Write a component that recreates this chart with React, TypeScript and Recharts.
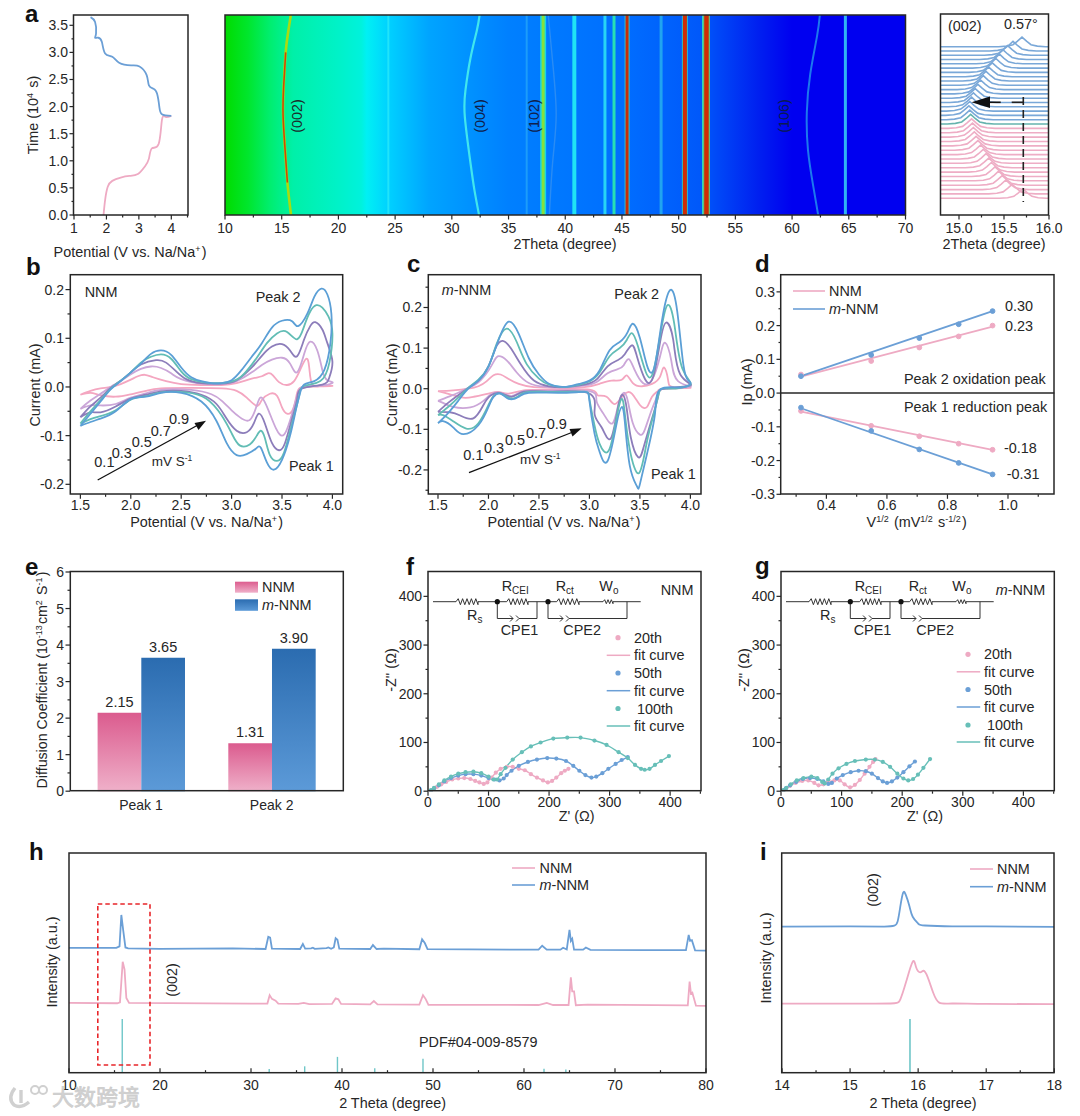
import React from 'react';
import {
  ComposedChart, BarChart, Bar, Line, XAxis, YAxis, ReferenceArea, ReferenceLine, LabelList,
} from 'recharts';

const FONT = '"Liberation Sans", Arial, sans-serif';
const INK = '#262626';
const PINK = '#eeaac3';
const BLUE = '#6b9fd6';
const TEAL = '#67bfb8';
const RATE_COLORS = ['#f4a6c0', '#cba6d8', '#8c7dba', '#62bdb5', '#5b9fd6'];

type Pair = [number, number];
const pts = (list: Pair[]) => list.map(([x, y]) => ({ x, y }));

// a - charge / discharge
const chargeCurve: Pair[] = [[1.91, 0], [1.96, 0.28], [2.04, 0.52], [2.18, 0.63], [2.44, 0.69], [2.71, 0.72], [2.97, 0.755], [3.18, 0.89], [3.31, 1.04], [3.4, 1.23], [3.61, 1.31], [3.71, 1.75], [3.82, 1.81], [4.0, 1.83]];
const dischargeCurve: Pair[] = [[4.0, 1.83], [3.71, 1.86], [3.63, 2.0], [3.56, 2.24], [3.45, 2.33], [3.31, 2.39], [3.24, 2.58], [3.02, 2.74], [2.76, 2.76], [2.39, 2.81], [2.18, 2.92], [1.96, 2.98], [1.86, 3.19], [1.75, 3.27], [1.65, 3.27], [1.68, 3.35], [1.65, 3.56], [1.51, 3.65]];

// a - heat map
const heatStops: Pair[] = [[10, 0], [12, 1], [14, 2], [16, 3], [20, 4], [22, 5], [22.5, 6], [24.5, 7], [28, 8], [35, 9], [45, 10], [52, 11], [57, 12], [60, 13], [70, 13]];
const heatColors = ['#00dc00', '#00e62c', '#00ee70', '#00f0a8', '#00f2c8', '#00f2dc', '#00f0f4', '#00d0ff', '#00a4ff', '#0080ff', '#006eff', '#0058fa', '#0020f0', '#0000f0'];
const heatBands = [
  { theta: 24.4, color: '#20e4fa', width: 2 }, { theta: 36.6, color: '#1c9cfa', width: 2 },
  { theta: 38.05, color: '#18d8e0', width: 6 }, { theta: 38.05, color: '#86e03c', width: 3 },
  { theta: 40.8, color: '#20e4f4', width: 4 }, { theta: 43.5, color: '#28d4f4', width: 3 },
  { theta: 44.3, color: '#28e0b4', width: 3 }, { theta: 45.45, color: '#30c0d0', width: 5 },
  { theta: 45.45, color: '#c82c08', width: 3 }, { theta: 48.45, color: '#20a4f0', width: 3 },
  { theta: 50.55, color: '#28c0c8', width: 6 }, { theta: 50.55, color: '#d02c04', width: 4 },
  { theta: 52.15, color: '#30e0c0', width: 2 }, { theta: 52.45, color: '#60c080', width: 7 },
  { theta: 52.45, color: '#d02c04', width: 4.5 }, { theta: 64.7, color: '#30b4f4', width: 3 },
];
const peak002: Pair[] = [[15.82, 0], [15.5, 0.6], [15.3, 1.2], [15.12, 1.85], [15.18, 2.4], [15.35, 3.0], [15.55, 3.35], [15.8, 3.69]];
const peak002Hot: Pair[] = [[15.5, 0.6], [15.3, 1.2], [15.12, 1.85], [15.18, 2.4], [15.35, 3.0]];
const peak004: Pair[] = [[32.4, 0], [32.0, 0.45], [31.65, 0.95], [31.15, 1.8], [31.2, 2.3], [31.65, 2.9], [32.2, 3.4], [32.45, 3.69]];
const peak106: Pair[] = [[62.3, 0], [61.85, 0.55], [61.4, 1.2], [61.3, 1.9], [61.6, 2.6], [62.2, 3.3], [62.45, 3.69]];
const peakFaint: Pair[] = [[38.6, 0], [38.9, 1.0], [39.2, 1.85], [38.9, 2.8], [38.5, 3.69]];

// a - waterfall of the (002) peak
const peakProfile: Pair[] = [[-0.26, 0], [-0.17, 0.6], [-0.1, 2], [-0.05, 5.5], [0, 9.6], [0.05, 5.5], [0.1, 2], [0.17, 0.6], [0.26, 0]];
const pinkBaselines = [16.7, 21.1, 25.4, 29.8, 34.2, 38.5, 42.9, 47.3, 51.7, 56, 60.4, 64.8, 69.1, 73.5, 77.9, 82.3, 86.6];
const pinkPeaks = [15.71, 15.59, 15.52, 15.48, 15.44, 15.4, 15.36, 15.33, 15.3, 15.27, 15.24, 15.21, 15.19, 15.17, 15.16, 15.15, 15.14];
const blueBaselines = [91, 95.3, 99.6, 103.9, 108.2, 112.5, 116.8, 121.1, 125.4, 129.7, 134, 138.3, 142.6, 146.9, 151.2, 155.5, 159.8, 164, 168.3];
const bluePeaks = [15.13, 15.12, 15.11, 15.12, 15.14, 15.16, 15.18, 15.21, 15.24, 15.27, 15.3, 15.33, 15.37, 15.41, 15.45, 15.49, 15.54, 15.6, 15.7];

const waterfallCurve = (base: number, peak: number) => [
  { x: 14.8, y: base },
  ...peakProfile.map(([dx, h]) => ({ x: peak + dx, y: base + h })),
  { x: 16, y: base },
];

// b - CV of NNM, one curve per scan rate
const cvNnm: Pair[][] = [
  [[1.5, -0.016], [1.6, -0.008], [1.7, -0.003], [1.8, 0], [1.9, 0.006], [2.0, 0.015], [2.07, 0.022], [2.14, 0.025], [2.22, 0.02], [2.35, 0.012], [2.5, 0.006], [2.7, 0.004], [2.9, 0.004], [3.05, 0.008], [3.2, 0.017], [3.3, 0.022], [3.36, 0.028], [3.41, 0.024], [3.47, 0.01], [3.55, 0.004], [3.62, 0.012], [3.68, 0.035], [3.74, 0.058], [3.77, 0.04], [3.8, 0.005], [3.9, 0.002], [4.0, 0.002], [3.85, 0.001], [3.7, -0.001], [3.65, -0.012], [3.61, -0.045], [3.55, -0.055], [3.5, -0.042], [3.45, -0.018], [3.38, -0.014], [3.3, -0.027], [3.25, -0.039], [3.15, -0.022], [3.05, -0.008], [2.9, -0.003], [2.6, -0.002], [2.3, -0.003], [2.15, -0.008], [2.0, -0.015], [1.85, -0.02], [1.7, -0.017], [1.6, -0.012], [1.5, -0.016]],
  [[1.5, -0.045], [1.6, -0.028], [1.7, -0.014], [1.8, 0], [1.9, 0.012], [2.0, 0.026], [2.1, 0.037], [2.2, 0.042], [2.3, 0.039], [2.4, 0.028], [2.5, 0.016], [2.7, 0.007], [2.9, 0.006], [3.05, 0.012], [3.2, 0.03], [3.3, 0.045], [3.4, 0.056], [3.5, 0.06], [3.58, 0.048], [3.65, 0.03], [3.72, 0.068], [3.78, 0.093], [3.85, 0.075], [3.9, 0.035], [3.95, 0.014], [4.0, 0.008], [3.85, 0.002], [3.7, 0], [3.65, -0.018], [3.6, -0.055], [3.52, -0.098], [3.44, -0.085], [3.37, -0.05], [3.3, -0.022], [3.25, -0.038], [3.18, -0.068], [3.08, -0.062], [3.0, -0.048], [2.9, -0.028], [2.8, -0.015], [2.6, -0.006], [2.3, -0.006], [2.15, -0.013], [2.0, -0.022], [1.85, -0.035], [1.7, -0.038], [1.6, -0.038], [1.5, -0.045]],
  [[1.5, -0.062], [1.6, -0.04], [1.7, -0.022], [1.8, -0.002], [1.9, 0.013], [2.0, 0.03], [2.1, 0.046], [2.25, 0.055], [2.35, 0.05], [2.45, 0.032], [2.55, 0.016], [2.7, 0.008], [2.9, 0.007], [3.05, 0.014], [3.2, 0.04], [3.3, 0.064], [3.4, 0.083], [3.5, 0.088], [3.58, 0.075], [3.65, 0.063], [3.72, 0.098], [3.78, 0.125], [3.83, 0.133], [3.9, 0.118], [3.95, 0.09], [4.0, 0.052], [3.97, 0.02], [3.9, 0.005], [3.7, -0.003], [3.65, -0.025], [3.6, -0.065], [3.53, -0.115], [3.47, -0.13], [3.4, -0.115], [3.33, -0.075], [3.27, -0.055], [3.22, -0.075], [3.15, -0.093], [3.05, -0.09], [2.95, -0.065], [2.85, -0.035], [2.7, -0.016], [2.5, -0.008], [2.3, -0.009], [2.15, -0.016], [2.0, -0.024], [1.85, -0.04], [1.7, -0.052], [1.6, -0.052], [1.5, -0.062]],
  [[1.5, -0.075], [1.6, -0.05], [1.7, -0.027], [1.8, -0.004], [1.9, 0.013], [2.0, 0.03], [2.1, 0.05], [2.2, 0.062], [2.3, 0.067], [2.4, 0.058], [2.5, 0.032], [2.6, 0.016], [2.75, 0.009], [2.9, 0.008], [3.05, 0.015], [3.15, 0.033], [3.25, 0.06], [3.35, 0.09], [3.45, 0.11], [3.55, 0.113], [3.65, 0.098], [3.72, 0.125], [3.78, 0.155], [3.84, 0.168], [3.9, 0.163], [3.96, 0.145], [4.0, 0.11], [3.97, 0.05], [3.88, 0.012], [3.72, 0.002], [3.67, -0.018], [3.6, -0.075], [3.52, -0.135], [3.45, -0.152], [3.38, -0.14], [3.33, -0.105], [3.29, -0.09], [3.25, -0.1], [3.18, -0.118], [3.08, -0.12], [3.0, -0.095], [2.9, -0.058], [2.75, -0.024], [2.55, -0.011], [2.3, -0.011], [2.15, -0.019], [2.0, -0.026], [1.85, -0.048], [1.7, -0.06], [1.6, -0.066], [1.5, -0.075]],
  [[1.5, -0.08], [1.6, -0.055], [1.7, -0.03], [1.8, -0.005], [1.9, 0.012], [2.0, 0.03], [2.1, 0.048], [2.2, 0.068], [2.3, 0.075], [2.4, 0.066], [2.5, 0.04], [2.6, 0.02], [2.7, 0.012], [2.8, 0.008], [2.9, 0.008], [3.0, 0.014], [3.1, 0.035], [3.2, 0.062], [3.3, 0.09], [3.4, 0.122], [3.5, 0.136], [3.6, 0.135], [3.66, 0.125], [3.75, 0.15], [3.82, 0.185], [3.89, 0.202], [3.95, 0.19], [3.99, 0.15], [3.98, 0.09], [3.92, 0.035], [3.82, 0.012], [3.72, 0.005], [3.68, -0.012], [3.64, -0.045], [3.58, -0.1], [3.5, -0.15], [3.42, -0.17], [3.35, -0.155], [3.29, -0.125], [3.24, -0.127], [3.15, -0.138], [3.05, -0.14], [2.95, -0.115], [2.85, -0.07], [2.7, -0.03], [2.5, -0.012], [2.3, -0.012], [2.15, -0.02], [2.0, -0.025], [1.85, -0.05], [1.7, -0.065], [1.6, -0.072], [1.5, -0.08]],
];

// c - CV of m-NNM
const cvModified: Pair[][] = [
  [[1.5, -0.006], [1.65, -0.004], [1.8, 0], [1.9, 0.006], [1.98, 0.018], [2.05, 0.033], [2.12, 0.035], [2.2, 0.024], [2.3, 0.012], [2.45, 0.004], [2.7, 0.002], [2.95, 0.004], [3.1, 0.012], [3.22, 0.02], [3.32, 0.022], [3.37, 0.033], [3.43, 0.014], [3.52, 0.006], [3.62, 0.012], [3.7, 0.03], [3.74, 0.052], [3.78, 0.02], [3.84, 0.004], [4.0, 0.002], [3.75, 0], [3.68, -0.005], [3.62, -0.02], [3.57, -0.045], [3.5, -0.04], [3.42, -0.012], [3.34, -0.015], [3.25, -0.038], [3.17, -0.02], [3.08, -0.016], [3.0, -0.002], [2.6, -0.003], [2.35, -0.004], [2.2, -0.012], [2.1, -0.008], [2.0, -0.012], [1.85, -0.02], [1.75, -0.022], [1.62, -0.014], [1.5, -0.006]],
  [[1.5, -0.03], [1.6, -0.02], [1.7, -0.01], [1.8, 0.002], [1.9, 0.016], [2.0, 0.045], [2.06, 0.07], [2.1, 0.08], [2.18, 0.07], [2.28, 0.04], [2.4, 0.014], [2.55, 0.005], [2.75, 0.003], [2.95, 0.008], [3.08, 0.018], [3.18, 0.038], [3.28, 0.048], [3.34, 0.058], [3.39, 0.073], [3.45, 0.045], [3.53, 0.014], [3.62, 0.022], [3.7, 0.08], [3.75, 0.113], [3.81, 0.07], [3.88, 0.018], [4.0, 0.005], [3.75, 0], [3.68, -0.012], [3.62, -0.05], [3.55, -0.1], [3.5, -0.113], [3.43, -0.085], [3.38, -0.03], [3.34, -0.01], [3.29, -0.035], [3.23, -0.085], [3.14, -0.062], [3.07, -0.03], [3.0, -0.006], [2.6, -0.005], [2.35, -0.006], [2.23, -0.018], [2.12, -0.01], [2.02, -0.015], [1.95, -0.03], [1.82, -0.046], [1.65, -0.045], [1.55, -0.035], [1.5, -0.03]],
  [[1.5, -0.057], [1.6, -0.035], [1.7, -0.016], [1.8, 0.002], [1.9, 0.02], [2.0, 0.055], [2.07, 0.1], [2.14, 0.118], [2.22, 0.1], [2.32, 0.06], [2.45, 0.02], [2.6, 0.006], [2.75, 0.004], [2.95, 0.01], [3.08, 0.025], [3.18, 0.055], [3.28, 0.07], [3.35, 0.085], [3.42, 0.107], [3.47, 0.08], [3.55, 0.024], [3.63, 0.028], [3.7, 0.115], [3.76, 0.163], [3.83, 0.12], [3.9, 0.035], [4.0, 0.008], [3.75, 0], [3.68, -0.02], [3.6, -0.09], [3.53, -0.15], [3.48, -0.168], [3.41, -0.12], [3.37, -0.05], [3.33, -0.015], [3.28, -0.05], [3.21, -0.123], [3.12, -0.095], [3.05, -0.06], [3.0, -0.012], [2.6, -0.007], [2.35, -0.007], [2.23, -0.02], [2.12, -0.011], [2.02, -0.017], [1.95, -0.04], [1.85, -0.073], [1.72, -0.066], [1.62, -0.058], [1.5, -0.057]],
  [[1.5, -0.065], [1.6, -0.045], [1.7, -0.022], [1.8, 0.002], [1.9, 0.022], [2.0, 0.055], [2.08, 0.11], [2.18, 0.148], [2.28, 0.115], [2.38, 0.06], [2.5, 0.025], [2.6, 0.01], [2.75, 0.004], [2.9, 0.01], [3.0, 0.018], [3.1, 0.04], [3.2, 0.08], [3.3, 0.1], [3.37, 0.12], [3.42, 0.137], [3.48, 0.105], [3.56, 0.04], [3.63, 0.04], [3.7, 0.13], [3.77, 0.205], [3.84, 0.16], [3.92, 0.05], [4.0, 0.01], [3.8, 0], [3.7, -0.003], [3.65, -0.05], [3.57, -0.13], [3.49, -0.208], [3.4, -0.15], [3.35, -0.06], [3.32, -0.025], [3.27, -0.07], [3.19, -0.153], [3.1, -0.135], [3.05, -0.09], [3.0, -0.025], [2.95, -0.007], [2.7, -0.008], [2.4, -0.008], [2.3, -0.018], [2.22, -0.024], [2.12, -0.012], [2.05, -0.018], [2.0, -0.04], [1.9, -0.085], [1.78, -0.098], [1.65, -0.08], [1.55, -0.065], [1.5, -0.065]],
  [[1.5, -0.085], [1.6, -0.06], [1.7, -0.03], [1.8, 0], [1.9, 0.02], [2.0, 0.055], [2.1, 0.12], [2.2, 0.165], [2.3, 0.135], [2.4, 0.075], [2.5, 0.035], [2.6, 0.012], [2.7, 0.005], [2.8, 0.006], [2.9, 0.012], [3.0, 0.02], [3.1, 0.045], [3.2, 0.095], [3.3, 0.115], [3.38, 0.14], [3.43, 0.16], [3.5, 0.125], [3.58, 0.05], [3.65, 0.06], [3.72, 0.17], [3.8, 0.243], [3.87, 0.19], [3.93, 0.06], [3.98, 0.02], [4.0, 0.012], [3.9, 0.003], [3.7, -0.002], [3.65, -0.06], [3.58, -0.15], [3.5, -0.235], [3.47, -0.24], [3.4, -0.19], [3.35, -0.08], [3.32, -0.045], [3.27, -0.085], [3.18, -0.178], [3.1, -0.155], [3.05, -0.11], [3.0, -0.03], [2.95, -0.008], [2.7, -0.01], [2.4, -0.01], [2.3, -0.02], [2.2, -0.025], [2.12, -0.012], [2.05, -0.02], [2.0, -0.045], [1.9, -0.09], [1.75, -0.112], [1.65, -0.095], [1.55, -0.08], [1.5, -0.085]],
];

// d - peak current against root of scan rate
const rootRates = [0.316, 0.548, 0.707, 0.837, 0.949];
const oxNnm = [0.055, 0.095, 0.135, 0.168, 0.2];
const oxModified = [0.05, 0.113, 0.163, 0.204, 0.243];
const redNnm = [-0.053, -0.097, -0.128, -0.15, -0.168];
const redModified = [-0.043, -0.112, -0.167, -0.207, -0.241];
const fitOxNnm: Pair[] = [[0.316, 0.049], [0.949, 0.197]];
const fitOxModified: Pair[] = [[0.316, 0.05], [0.949, 0.243]];
const fitRedNnm: Pair[] = [[0.316, -0.055], [0.949, -0.168]];
const fitRedModified: Pair[] = [[0.316, -0.045], [0.949, -0.241]];

// e - diffusion coefficient
const peakNames = ['Peak 1', 'Peak 2'];
const diffusionNnm = [2.15, 1.31];
const diffusionModified = [3.65, 3.9];
const diffusionRows = peakNames.map((name, i) => ({ name, nnm: diffusionNnm[i], mod: diffusionModified[i] }));

// f - Nyquist of NNM
const nnm20: Pair[] = [[5, 1], [10, 5], [15, 9], [22, 14], [30, 19], [40, 24], [50, 26], [60, 27], [70, 25], [78, 21], [85, 18], [92, 15], [98, 18], [105, 28], [112, 38], [120, 46], [130, 50], [140, 50], [150, 46], [160, 43], [170, 35], [180, 28], [190, 22], [198, 18], [205, 21], [212, 28], [220, 37], [226, 42], [232, 46]];
const nnm50: Pair[] = [[5, 1], [10, 6], [18, 12], [27, 20], [38, 27], [50, 32], [62, 35], [75, 35], [88, 32], [100, 27], [110, 24], [118, 22], [125, 26], [130, 33], [138, 42], [150, 52], [165, 60], [180, 65], [197, 68], [212, 67], [228, 62], [240, 52], [250, 42], [260, 33], [270, 28], [278, 30], [288, 37], [298, 46], [310, 56], [320, 64], [330, 70]];
const nnm100: Pair[] = [[5, 2], [10, 7], [18, 14], [27, 22], [38, 30], [50, 36], [62, 39], [75, 40], [88, 37], [100, 30], [108, 24], [114, 24], [120, 35], [128, 48], [140, 65], [155, 80], [170, 92], [186, 100], [207, 108], [230, 110], [252, 110], [275, 104], [295, 95], [315, 80], [330, 68], [342, 54], [352, 46], [358, 44], [366, 46], [375, 54], [385, 62], [398, 72]];

// g - Nyquist of m-NNM
const mod20: Pair[] = [[4, 1], [8, 5], [15, 11], [24, 17], [35, 21], [45, 22], [55, 17], [62, 12], [70, 14], [78, 19], [88, 22], [97, 22], [105, 14], [114, 8], [122, 13], [130, 23], [138, 36], [146, 50], [152, 60], [156, 66]];
const mod50: Pair[] = [[4, 1], [8, 6], [15, 12], [25, 19], [36, 25], [48, 27], [60, 25], [70, 20], [78, 15], [84, 17], [92, 26], [102, 33], [115, 39], [128, 42], [140, 41], [150, 36], [160, 27], [168, 20], [175, 17], [183, 20], [192, 28], [202, 39], [212, 51], [221, 61]];
const mod100: Pair[] = [[4, 2], [9, 7], [16, 14], [26, 22], [37, 27], [50, 30], [60, 27], [68, 19], [72, 16], [78, 24], [85, 36], [95, 47], [108, 56], [122, 62], [140, 65], [155, 65], [168, 60], [180, 50], [192, 36], [202, 26], [210, 22], [218, 25], [226, 34], [235, 48], [246, 66]];

// h - XRD patterns
const xrdModified: Pair[] = [[10, 56.8], [15.2, 56.8], [15.55, 57.5], [15.75, 71.8], [15.95, 65], [16.2, 57], [16.5, 56.6], [20, 56.4], [28, 56.6], [31.6, 56.3], [31.9, 61.9], [32.1, 61.5], [32.3, 56.5], [35.4, 56.3], [35.7, 58.6], [35.95, 56.5], [36.6, 56.6], [36.8, 56.9], [37, 56.4], [38.3, 56.7], [38.5, 57], [38.8, 56.4], [39.1, 57], [39.3, 61.2], [39.5, 60.5], [39.7, 56.5], [43.1, 56.3], [43.4, 58.1], [43.8, 56.3], [44.6, 56.5], [48.5, 56.2], [48.8, 60.7], [49.1, 59], [49.4, 56.2], [61.6, 56], [62, 57.8], [62.5, 56], [64, 56], [64.3, 56.9], [64.7, 56.1], [65, 65], [65.15, 60], [65.3, 61], [65.5, 56], [66.5, 56], [66.8, 57], [67.3, 55.9], [73.7, 55.8], [77.8, 55.8], [78.1, 62.7], [78.25, 60], [78.45, 60.3], [78.8, 55.7], [80, 55.6]];
const xrdNnm: Pair[] = [[10, 31.8], [15.3, 31.6], [15.6, 32], [15.9, 50.5], [16.1, 47], [16.3, 34], [16.6, 31.8], [30, 31.4], [31.8, 31.5], [32.05, 35.3], [32.3, 33.6], [32.7, 32.8], [33, 31.4], [35.2, 31.3], [35.8, 31.8], [36.4, 31.2], [38.9, 31.3], [39.3, 33.8], [39.6, 33.4], [39.9, 31.3], [43.1, 31.1], [43.5, 32.6], [43.9, 31.1], [48.5, 31], [48.9, 35.3], [49.2, 33.5], [49.5, 30.9], [61.6, 30.8], [62.5, 31.8], [63.2, 30.8], [64.9, 30.8], [65.15, 43.4], [65.3, 37], [65.5, 37], [65.7, 30.7], [67, 31], [78, 30.6], [78.2, 41.5], [78.35, 36], [78.5, 36.4], [78.9, 30.5], [80, 30.4]];
const stickThetas = [15.85, 32, 35.9, 39.5, 43.6, 48.9, 62.2, 64.6];
const stickHeights = [24.4, 1.7, 2.9, 7.2, 2, 6.4, 1.8, 1.5];

// i - (002) close up
const closeModified: Pair[] = [[14, 66.5], [15, 66.6], [15.5, 66.5], [15.65, 66.9], [15.7, 69], [15.74, 76], [15.78, 82], [15.82, 80.8], [15.87, 76], [15.92, 71], [16, 67.9], [16.1, 67], [16.5, 66.6], [17, 66.6], [18, 66.4]];
const closeNnm: Pair[] = [[14, 31.4], [15.2, 31.4], [15.65, 31.6], [15.74, 33.5], [15.82, 41], [15.92, 50.5], [15.97, 48], [16.03, 45.7], [16.08, 46.4], [16.14, 43.5], [16.22, 36.5], [16.31, 31.9], [16.5, 31.5], [17, 31.3], [18, 31.2]];
const closeStickTheta = [15.88];
const closeStickHeight = [24.4];

const range = (from: number, to: number, step: number) => {
  const out: number[] = [];
  for (let v = from; v <= to + step / 1000; v += step) out.push(Number(v.toFixed(4)));
  return out;
};

type Box = { l: number; t: number; r: number; b: number };

const boxes: Record<string, Box> = {
  a1: { l: 73.5, t: 15, r: 188, b: 215 },
  a2: { l: 225, t: 15, r: 905.5, b: 215 },
  a3: { l: 940.5, t: 14, r: 1048.5, b: 215 },
  b: { l: 70.3, t: 274.7, r: 342.7, b: 494 },
  c: { l: 428.3, t: 274.7, r: 701, b: 494 },
  d: { l: 780.7, t: 274.7, r: 1054, b: 494 },
  e: { l: 70.3, t: 571.5, r: 343.3, b: 790.7 },
  f: { l: 428, t: 571.5, r: 701, b: 790.7 },
  g: { l: 781, t: 571.5, r: 1054.3, b: 790.7 },
  h: { l: 69, t: 853, r: 706, b: 1072.7 },
  i: { l: 781.7, t: 853, r: 1054, b: 1072.7 },
};

const makeTick = (axis: 'x' | 'y', majors: number[], digits: number, inward = false, gap = 16) => (props: any) => {
  const { x, y, payload } = props;
  const major = majors.some((m) => Math.abs(m - payload.value) < 1e-6);
  const len = (major ? 4.5 : 2.5) * (inward ? -1 : 1);
  if (axis === 'x') {
    return (
      <g>
        <line x1={x} x2={x} y1={y} y2={y + len} stroke={INK} strokeWidth={1.2} />
        {major && <text x={x} y={y + gap} textAnchor="middle" fontSize={14} fill={INK} fontFamily={FONT}>{payload.value.toFixed(digits)}</text>}
      </g>
    );
  }
  return (
    <g>
      <line x1={x} x2={x - len} y1={y} y2={y} stroke={INK} strokeWidth={1.2} />
      {major && <text x={x - 6} y={y + 5} textAnchor="end" fontSize={14} fill={INK} fontFamily={FONT}>{payload.value.toFixed(digits)}</text>}
    </g>
  );
};

const Panel = ({ box, xd, yd, xMajor, xMinor = [], yMajor = [], yMinor = [], xDigits = 0, yDigits = 0, inward = false, gap = 16, children }: any) => {
  const padL = 60, padT = 12, padR = 14, padB = 34;
  return (
    <div style={{ position: 'absolute', left: box.l - padL, top: box.t - padT }}>
      <ComposedChart
        width={box.r - box.l + padL + padR}
        height={box.b - box.t + padT + padB}
        margin={{ top: padT, right: padR, bottom: 0, left: 0 }}
      >
        <XAxis
          type="number" dataKey="x" domain={xd} allowDataOverflow height={padB} tickSize={0} tickMargin={0}
          ticks={[...xMajor, ...xMinor]} interval={0} axisLine={false} tickLine={false}
          tick={makeTick('x', xMajor, xDigits, inward, gap)}
        />
        <YAxis
          type="number" dataKey="y" domain={yd} allowDataOverflow width={padL} tickSize={0} tickMargin={0}
          ticks={[...yMajor, ...yMinor]} interval={0} axisLine={false} tickLine={false}
          tick={makeTick('y', yMajor, yDigits)}
        />
        {children}
      </ComposedChart>
    </div>
  );
};

const curve = (key: string, data: any[], color: string, width = 1.8, type: any = 'linear', dot: any = false) => (
  <Line
    key={key} data={data} dataKey="y" type={type} stroke={color} strokeWidth={width} dot={dot}
    activeDot={false} isAnimationActive={false} legendType="none"
  />
);

const Txt = ({ x, y, size = 14.4, anchor = 'start', rot, bold, italic, fill = INK, children }: any) => (
  <text
    x={x} y={y} fontSize={size} textAnchor={anchor} fill={fill} fontFamily={FONT}
    fontWeight={bold ? 'bold' : 'normal'} fontStyle={italic ? 'italic' : 'normal'}
    transform={rot ? `rotate(${rot} ${x} ${y})` : undefined}
  >
    {children}
  </text>
);

const ModName = () => (
  <>
    <tspan fontStyle="italic">m</tspan>-NNM
  </>
);

const Sup = ({ t, size = 9 }: any) => (
  <>
    <tspan dy={-5} fontSize={size}>{t}</tspan>
    <tspan dy={5}>{'\u200a'}</tspan>
  </>
);
const Sub = ({ t, size = 10 }: any) => (
  <>
    <tspan dy={3} fontSize={size}>{t}</tspan>
    <tspan dy={-3}>{'\u200a'}</tspan>
  </>
);

const PanelLetter = ({ x, y, children }: any) => <Txt x={x} y={y} size={24} bold fill="#111">{children}</Txt>;

const zigzag = (x0: number, x1: number, y: number, teeth = 5, h = 3) => {
  const step = (x1 - x0) / (teeth * 2);
  let d = `M${x0} ${y}`;
  for (let i = 0; i < teeth * 2; i++) d += ` L${x0 + step * (i + 1)} ${y + (i % 2 === 0 ? -h : h)}`;
  return d + ` L${x1} ${y}`;
};

const Circuit = ({ dx }: { dx: number }) => {
  const y = 601.7, low = 618.5;
  return (
    <g transform={`translate(${dx} 0)`}>
      <g fill="none" stroke="#333" strokeWidth={1}>
        <path d={`M433 ${y} H456 M478 ${y} H506.7 M528 ${y} H556.7 M579 ${y} H603 M613 ${y} H640.7`} />
        <path d={zigzag(456, 478, y)} />
        <path d={zigzag(506.7, 528, y)} />
        <path d={zigzag(556.7, 579, y)} />
        <path d={zigzag(603, 613, y, 3, 2)} />
        <path d={`M497.3 ${y} V${low} H513 M519 ${low} H537 V${y}`} />
        <path d={`M548 ${y} V${low} H563 M569 ${low} H627 V${y}`} />
        <path d={`M510 ${low - 3} L513 ${low} L510 ${low + 3} M516 ${low - 3} L519 ${low} L516 ${low + 3}`} />
        <path d={`M560 ${low - 3} L563 ${low} L560 ${low + 3} M566 ${low - 3} L569 ${low} L566 ${low + 3}`} />
      </g>
      <circle cx={497.3} cy={y} r={2.6} fill="#111" />
      <circle cx={548} cy={y} r={2.6} fill="#111" />
      <Txt x={467} y={620}>R<Sub t="s" /></Txt>
      <Txt x={501.7} y={591}>R<Sub t="CEI" /></Txt>
      <Txt x={555.7} y={591}>R<Sub t="ct" /></Txt>
      <Txt x={599.3} y={591}>W<Sub t="o" /></Txt>
      <Txt x={500.7} y={635}>CPE1</Txt>
      <Txt x={563.3} y={635}>CPE2</Txt>
    </g>
  );
};

const RateLabels = ({ items, unit }: any) => (
  <>
    {items.map(([t, x, y]: any) => <Txt key={t} x={x} y={y} size={14.5}>{t}</Txt>)}
    <Txt x={unit[0]} y={unit[1]} size={13.5}>mV S<Sup t="-1" size={8.5} /></Txt>
  </>
);

const NyquistLegend = ({ markerX, textX, lineX, rows }: any) => {
  const entries = [['20th', PINK], ['50th', BLUE], ['100th', TEAL]];
  return (
    <>
      {entries.map(([name, color]: any, i: number) => (
        <g key={name}>
          <circle cx={markerX} cy={rows[i * 2]} r={2.6} fill={color} />
          <Txt x={textX + (name === '100th' ? 3 : 0)} y={rows[i * 2] + 5}>{name}</Txt>
          <line x1={lineX} x2={lineX + 23.5} y1={rows[i * 2 + 1]} y2={rows[i * 2 + 1]} stroke={color} strokeWidth={1.5} />
          <Txt x={textX} y={rows[i * 2 + 1] + 5}>fit curve</Txt>
        </g>
      ))}
    </>
  );
};

const LineLegend = ({ x0, x1, textX, y1, y2 }: any) => (
  <>
    <line x1={x0} x2={x1} y1={y1} y2={y1} stroke={PINK} strokeWidth={1.6} />
    <line x1={x0} x2={x1} y1={y2} y2={y2} stroke={BLUE} strokeWidth={1.6} />
    <Txt x={textX} y={y1 + 5}>NNM</Txt>
    <Txt x={textX} y={y2 + 5}><ModName /></Txt>
  </>
);

const Overlay = () => (
  <svg width={1080} height={1116} style={{ position: 'absolute', left: 0, top: 0, pointerEvents: 'none' }}>
    <defs>
      <linearGradient id="legendPink" x1="0" y1="0" x2="0" y2="1">
        <stop offset="0" stopColor="#dc5c8e" /><stop offset="1" stopColor="#efb0c9" />
      </linearGradient>
      <linearGradient id="legendBlue" x1="0" y1="0" x2="0" y2="1">
        <stop offset="0" stopColor="#2b6cb0" /><stop offset="1" stopColor="#5c9ad8" />
      </linearGradient>
    </defs>
    {Object.entries(boxes).map(([k, b]) => (
      <rect key={k} x={b.l} y={b.t} width={b.r - b.l} height={b.b - b.t} fill="none" stroke={INK} strokeWidth={1.5} />
    ))}

    <PanelLetter x={25} y={22}>a</PanelLetter>
    <PanelLetter x={26} y={275}>b</PanelLetter>
    <PanelLetter x={407} y={272}>c</PanelLetter>
    <PanelLetter x={755} y={272}>d</PanelLetter>
    <PanelLetter x={25} y={575}>e</PanelLetter>
    <PanelLetter x={406} y={575}>f</PanelLetter>
    <PanelLetter x={755} y={574}>g</PanelLetter>
    <PanelLetter x={29} y={860}>h</PanelLetter>
    <PanelLetter x={760} y={860}>i</PanelLetter>

    {/* a */}
    <Txt x={38} y={115} anchor="middle" rot={-90}>Time (10<Sup t="4" /> s)</Txt>
    <Txt x={130} y={257} anchor="middle">Potential (V vs. Na/Na<Sup t="+" />)</Txt>
    <Txt x={565} y={249} anchor="middle">2Theta (degree)</Txt>
    <Txt x={994} y={249} anchor="middle">2Theta (degree)</Txt>
    <Txt x={302} y={116} anchor="middle" rot={-90} fill="#1c2c2c">(002)</Txt>
    <Txt x={485} y={116} anchor="middle" rot={-90} fill="#10204a">(004)</Txt>
    <Txt x={539} y={116} anchor="middle" rot={-90} fill="#10204a">(102)</Txt>
    <Txt x={789} y={116} anchor="middle" rot={-90} fill="#0a1a50">(106)</Txt>
    <Txt x={948} y={31}>(002)</Txt>
    <Txt x={1004} y={29}>0.57°</Txt>
    <line x1={1023.3} x2={1023.3} y1={97} y2={202} stroke="#222" strokeWidth={1.6} strokeDasharray="8 5" />
    <line x1={1023} x2={1011.7} y1={102.3} y2={102.3} stroke="#222" strokeWidth={1.6} />
    <line x1={1000.7} x2={990} y1={102.3} y2={102.3} stroke="#111" strokeWidth={1.6} />
    <path d="M971.5 102.3 L990 96.6 L990 108 Z" fill="#111" />

    {/* b */}
    <Txt x={40} y={385} anchor="middle" rot={-90}>Current (mA)</Txt>
    <Txt x={206.7} y={527} anchor="middle">Potential (V vs. Na/Na<Sup t="+" />)</Txt>
    <Txt x={84.7} y={296.7}>NNM</Txt>
    <Txt x={255.7} y={302}>Peak 2</Txt>
    <Txt x={289} y={471}>Peak 1</Txt>
    <line x1={97.7} y1={480} x2={198} y2={425} stroke="#111" strokeWidth={1.3} />
    <path d="M206 420.7 L194.5 423 L198.5 430 Z" fill="#111" />
    <RateLabels
      items={[['0.1', 94.3, 466.7], ['0.3', 111.7, 458], ['0.5', 131.7, 446.7], ['0.7', 150.7, 435.7], ['0.9', 169, 424]]}
      unit={[151.7, 465.7]}
    />

    {/* c */}
    <Txt x={397} y={385} anchor="middle" rot={-90}>Current (mA)</Txt>
    <Txt x={564} y={527} anchor="middle">Potential (V vs. Na/Na<Sup t="+" />)</Txt>
    <Txt x={441.7} y={295}><ModName /></Txt>
    <Txt x={614.3} y={299.3}>Peak 2</Txt>
    <Txt x={651} y={479.3}>Peak 1</Txt>
    <line x1={469} y1={472.7} x2={573} y2={432} stroke="#111" strokeWidth={1.3} />
    <path d="M581.7 428.3 L569.5 429 L572.5 436.5 Z" fill="#111" />
    <RateLabels
      items={[['0.1', 463.3, 460], ['0.3', 484, 453.3], ['0.5', 505, 445], ['0.7', 526, 438.3], ['0.9', 546.7, 429]]}
      unit={[520, 464]}
    />

    {/* d */}
    <Txt x={752} y={382} anchor="middle" rot={-90}>Ip (mA)</Txt>
    <Txt x={916.7} y={527} anchor="middle">V<Sup t="1/2" /> (mV<Sup t="1/2" /> s<Sup t="-1/2" />)</Txt>
    <LineLegend x0={793} x1={825} textX={829} y1={291} y2={309} />
    <Txt x={1005} y={310.7}>0.30</Txt>
    <Txt x={1005} y={330.7}>0.23</Txt>
    <Txt x={1004} y={453}>-0.18</Txt>
    <Txt x={1006.7} y={479}>-0.31</Txt>
    <Txt x={904} y={384}>Peak 2 oxidation peak</Txt>
    <Txt x={904} y={411.7}>Peak 1 reduction peak</Txt>

    {/* e */}
    <Txt x={47} y={680} anchor="middle" rot={-90} size={14.2}>Diffusion Coefficient (10<Sup t="-13" />cm<Sup t="2" /> S<Sup t="-1" />)</Txt>
    <rect x={235} y={581.7} width={23} height={11} fill="url(#legendPink)" />
    <rect x={235} y={599.3} width={23} height={11.5} fill="url(#legendBlue)" />
    <Txt x={262} y={592}>NNM</Txt>
    <Txt x={262} y={610}><ModName /></Txt>

    {/* f */}
    <Txt x={396} y={670} anchor="middle" rot={-90}>-Z'' (Ω)</Txt>
    <Txt x={576.7} y={821} anchor="middle">Z' (Ω)</Txt>
    <Circuit dx={0} />
    <Txt x={660.7} y={595}>NNM</Txt>
    <NyquistLegend markerX={618} textX={634} lineX={606.7} rows={[637.7, 655.3, 673, 690.7, 708.5, 726]} />

    {/* g */}
    <Txt x={749} y={670} anchor="middle" rot={-90}>-Z'' (Ω)</Txt>
    <Txt x={925} y={821} anchor="middle">Z' (Ω)</Txt>
    <Circuit dx={353} />
    <Txt x={995.7} y={595}><ModName /></Txt>
    <NyquistLegend markerX={968} textX={984} lineX={956.7} rows={[654.3, 671.8, 689.5, 707, 725, 742]} />

    {/* h */}
    <Txt x={57} y={962} anchor="middle" rot={-90}>Intensity (a.u.)</Txt>
    <Txt x={392.6} y={1108} anchor="middle">2 Theta (degree)</Txt>
    <LineLegend x0={512} x1={535} textX={539.5} y1={868} y2={885} />
    <Txt x={419} y={1047}>PDF#04-009-8579</Txt>
    <Txt x={177} y={980} anchor="middle" rot={-90}>(002)</Txt>
    <rect x={97.8} y={904} width={52.2} height={161} fill="none" stroke="#e8262a" strokeWidth={1.6} strokeDasharray="4.5 3" />

    {/* i */}
    <Txt x={771} y={958} anchor="middle" rot={-90}>Intensity (a.u.)</Txt>
    <Txt x={923} y={1108} anchor="middle">2 Theta (degree)</Txt>
    <LineLegend x0={970} x1={993} textX={997} y1={869} y2={886.7} />
    <Txt x={878} y={890} anchor="middle" rot={-90}>(002)</Txt>

    {/* watermark */}
    <g>
      <path d="M15 1088 Q7 1098 14 1105 Q21 1109 29 1102 M21 1090 L21 1103" fill="none" stroke="#d0d0d0" strokeWidth={3.4} />
      <circle cx={35} cy={1090} r={4} fill="none" stroke="#d0d0d0" strokeWidth={2} />
      <circle cx={43} cy={1090} r={4} fill="none" stroke="#d0d0d0" strokeWidth={2} />
      <text x={52} y={1105} fontSize={22} fontFamily='"Noto Sans CJK SC"' fill="#d2d2d2" stroke="#cccccc" strokeWidth={0.7}>大数跨境</text>
    </g>
  </svg>
);

export default function App() {
  const heatDomain = [10, 70];
  return (
    <div style={{ position: 'absolute', left: 0, top: 0, width: 1080, height: 1116, background: '#fff', fontFamily: FONT, overflow: 'hidden' }}>
      {/* a left */}
      <Panel box={boxes.a1} xd={[1, 4.53]} yd={[0, 3.69]} xMajor={[1, 2, 3, 4]} xMinor={[1.5, 2.5, 3.5, 4.5]}
        yMajor={range(0, 3.5, 0.5)} yMinor={range(0.25, 3.25, 0.5)} yDigits={1} gap={18}>
        {curve('charge', pts(chargeCurve), PINK, 1.8, 'natural')}
        {curve('discharge', pts(dischargeCurve), BLUE, 1.8, 'natural')}
      </Panel>

      {/* a heat map */}
      <Panel box={boxes.a2} xd={heatDomain} yd={[0, 3.69]} xMajor={range(10, 70, 5)} xMinor={range(12.5, 67.5, 5)} gap={18}>
        <defs>
          <linearGradient id="heat" x1="0" y1="0" x2="1" y2="0">
            {heatStops.map(([theta, idx]) => (
              <stop key={theta} offset={(theta - 10) / 60} stopColor={heatColors[idx]} />
            ))}
          </linearGradient>
        </defs>
        <ReferenceArea x1={10} x2={70} y1={0} y2={3.69} fill="url(#heat)" fillOpacity={1} stroke="none" />
        {heatBands.map((b, i) => (
          <ReferenceLine key={i} x={b.theta} stroke={b.color} strokeWidth={b.width} />
        ))}
        {curve('faint', pts(peakFaint), '#2a8cf4', 1.4, 'natural')}
        {curve('p004', pts(peak004), '#40e6ee', 2.2, 'natural')}
        {curve('p106', pts(peak106), '#1c78ee', 2, 'natural')}
        {curve('p002', pts(peak002), '#a8dc10', 2.6, 'natural')}
        {curve('p002hot', pts(peak002Hot), '#c8480c', 1.6, 'natural')}
      </Panel>

      {/* a waterfall */}
      <Panel box={boxes.a3} xd={[14.8, 16]} yd={[0, 201]} xMajor={[15, 15.5, 16]} xMinor={[15.25, 15.75]} xDigits={1} gap={18}>
        {pinkBaselines.map((base, i) => curve(`pk${i}`, waterfallCurve(base, pinkPeaks[i]), '#eeadc5', 1.6))}
        {curve('mid', waterfallCurve(blueBaselines[0], bluePeaks[0]), '#66b4ae', 1.6)}
        {blueBaselines.slice(1).map((base, i) => curve(`bl${i}`, waterfallCurve(base, bluePeaks[i + 1]), '#7aa8d8', 1.6))}
      </Panel>

      {/* b */}
      <Panel box={boxes.b} xd={[1.397, 4.099]} yd={[-0.2205, 0.23]} xMajor={range(1.5, 4, 0.5)} xMinor={range(1.75, 3.75, 0.5)}
        yMajor={range(-0.2, 0.2, 0.1)} yMinor={range(-0.15, 0.15, 0.1)} xDigits={1} yDigits={1}>
        {cvNnm.map((c, i) => curve(`cvb${i}`, pts(c), RATE_COLORS[i], 1.8, 'natural'))}
      </Panel>

      {/* c */}
      <Panel box={boxes.c} xd={[1.401, 4.102]} yd={[-0.26, 0.28]} xMajor={range(1.5, 4, 0.5)} xMinor={range(1.75, 3.75, 0.5)}
        yMajor={range(-0.2, 0.2, 0.1)} yMinor={range(-0.25, 0.25, 0.1)} xDigits={1} yDigits={1}>
        {cvModified.map((c, i) => curve(`cvc${i}`, pts(c), RATE_COLORS[i], 1.8, 'natural'))}
      </Panel>

      {/* d */}
      <Panel box={boxes.d} xd={[0.25, 1.153]} yd={[-0.3, 0.35]} xMajor={[0.4, 0.6, 0.8, 1]} xMinor={[0.3, 0.5, 0.7, 0.9, 1.1]}
        yMajor={range(-0.3, 0.3, 0.1)} yMinor={range(-0.25, 0.25, 0.1)} xDigits={1} yDigits={1}>
        <ReferenceLine y={0} stroke={INK} strokeWidth={1.5} />
        {curve('fitOxN', pts(fitOxNnm), PINK, 1.8)}
        {curve('fitRedN', pts(fitRedNnm), PINK, 1.8)}
        {curve('fitOxM', pts(fitOxModified), BLUE, 1.8)}
        {curve('fitRedM', pts(fitRedModified), BLUE, 1.8)}
        {[[oxNnm, PINK], [redNnm, PINK], [oxModified, BLUE], [redModified, BLUE]].map(([vals, color]: any, i) => (
          <Line
            key={i} data={rootRates.map((x, j) => ({ x, y: vals[j] }))} dataKey="y" stroke="none"
            dot={{ r: 2.4, fill: color, stroke: color }} activeDot={false} isAnimationActive={false} legendType="none"
          />
        ))}
      </Panel>

      {/* e */}
      <div style={{ position: 'absolute', left: boxes.e.l - 60, top: boxes.e.t - 12 }}>
        <BarChart
          width={boxes.e.r - boxes.e.l + 74}
          height={boxes.e.b - boxes.e.t + 46}
          data={diffusionRows}
          margin={{ top: 12, right: 14, bottom: 0, left: 0 }}
          barSize={43.7}
          barGap={0}
        >
          <defs>
            <linearGradient id="barPink" x1="0" y1="0" x2="0" y2="1">
              <stop offset="0" stopColor="#db5b8e" /><stop offset="1" stopColor="#efb0c9" />
            </linearGradient>
            <linearGradient id="barBlue" x1="0" y1="0" x2="0" y2="1">
              <stop offset="0" stopColor="#2b6cb0" /><stop offset="1" stopColor="#5c9ad8" />
            </linearGradient>
          </defs>
          <XAxis dataKey="name" height={34} axisLine={false} tickLine={false} padding={{ left: 5.6, right: 6 }}
            interval={0} tickSize={0} tickMargin={0}
            tick={(p: any) => <text x={p.x} y={p.y + 19} textAnchor="middle" fontSize={14} fill={INK} fontFamily={FONT}>{p.payload.value}</text>} />
          <YAxis type="number" domain={[0, 6]} width={60} axisLine={false} tickLine={false} interval={0} tickSize={0} tickMargin={0}
            ticks={[...range(0, 6, 1), ...range(0.5, 5.5, 1)]} tick={makeTick('y', range(0, 6, 1), 0)} />
          <Bar dataKey="nnm" fill="url(#barPink)" isAnimationActive={false} legendType="none">
            <LabelList dataKey="nnm" position="top" offset={6} formatter={(v: number) => v.toFixed(2)} fontSize={14.5} fill={INK} fontFamily={FONT} />
          </Bar>
          <Bar dataKey="mod" fill="url(#barBlue)" isAnimationActive={false} legendType="none">
            <LabelList dataKey="mod" position="top" offset={6} formatter={(v: number) => v.toFixed(2)} fontSize={14.5} fill={INK} fontFamily={FONT} />
          </Bar>
        </BarChart>
      </div>

      {/* f */}
      <Panel box={boxes.f} xd={[0, 451]} yd={[0, 450]} xMajor={range(0, 400, 100)} xMinor={range(50, 450, 100)}
        yMajor={range(0, 400, 100)} yMinor={range(50, 350, 100)}>
        {curve('n20', pts(nnm20), PINK, 1.4, 'natural', { r: 2.1, fill: PINK, stroke: 'none' })}
        {curve('n50', pts(nnm50), BLUE, 1.4, 'natural', { r: 2.1, fill: BLUE, stroke: 'none' })}
        {curve('n100', pts(nnm100), TEAL, 1.4, 'natural', { r: 2.1, fill: TEAL, stroke: 'none' })}
      </Panel>

      {/* g */}
      <Panel box={boxes.g} xd={[0, 451]} yd={[0, 450]} xMajor={range(0, 400, 100)} xMinor={range(50, 450, 100)}
        yMajor={range(0, 400, 100)} yMinor={range(50, 350, 100)}>
        {curve('m20', pts(mod20), PINK, 1.4, 'natural', { r: 2.1, fill: PINK, stroke: 'none' })}
        {curve('m50', pts(mod50), BLUE, 1.4, 'natural', { r: 2.1, fill: BLUE, stroke: 'none' })}
        {curve('m100', pts(mod100), TEAL, 1.4, 'natural', { r: 2.1, fill: TEAL, stroke: 'none' })}
      </Panel>

      {/* h */}
      <Panel box={boxes.h} xd={[10, 80]} yd={[0, 100]} xMajor={range(10, 80, 10)} xMinor={range(15, 75, 10)} inward gap={17}>
        {stickThetas.map((x, i) => (
          <ReferenceLine key={x} segment={[{ x, y: 0 }, { x, y: stickHeights[i] }]} stroke="#6fc6c8" strokeWidth={1.4} />
        ))}
        {curve('xn', pts(xrdNnm), PINK, 1.8)}
        {curve('xm', pts(xrdModified), BLUE, 1.8)}
      </Panel>

      {/* i */}
      <Panel box={boxes.i} xd={[14, 18]} yd={[0, 100]} xMajor={[14, 15, 16, 17, 18]} xMinor={[14.5, 15.5, 16.5, 17.5]} inward gap={17}>
        {closeStickTheta.map((x, i) => (
          <ReferenceLine key={x} segment={[{ x, y: 0 }, { x, y: closeStickHeight[i] }]} stroke="#6fc6c8" strokeWidth={1.6} />
        ))}
        {curve('cn', pts(closeNnm), PINK, 1.8, 'natural')}
        {curve('cm', pts(closeModified), BLUE, 1.8, 'natural')}
      </Panel>

      <Overlay />
    </div>
  );
}
